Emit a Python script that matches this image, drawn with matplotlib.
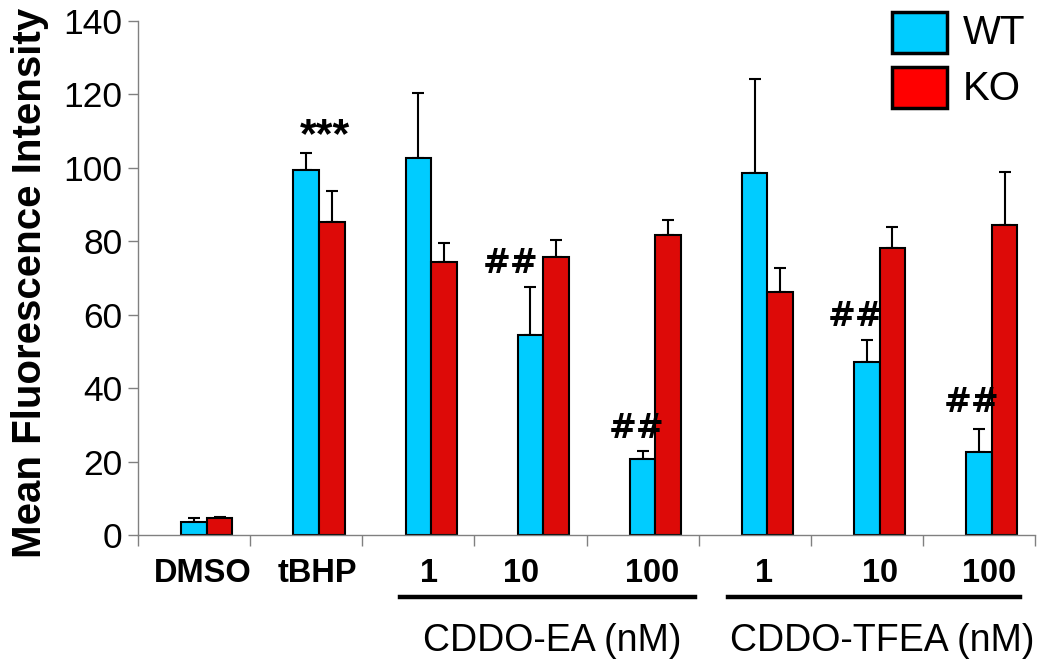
import matplotlib
matplotlib.use("Agg")
import matplotlib.pyplot as plt
import matplotlib.transforms as mtransforms
from matplotlib.patches import Rectangle
from matplotlib.lines import Line2D
import numpy as np

plt.rcParams['font.family'] = ['Liberation Sans', 'DejaVu Sans']

categories = ["DMSO", "tBHP", "1", "10", "100", "1", "10", "100"]
wt_values = [3.7, 99.4, 102.6, 54.5, 20.9, 98.5, 47.1, 22.6]
wt_err = [0.9, 4.8, 17.9, 13.2, 2.0, 25.6, 6.1, 6.3]
ko_values = [4.6, 85.4, 74.5, 75.7, 81.7, 66.3, 78.1, 84.4]
ko_err = [0.5, 8.4, 5.2, 4.7, 4.1, 6.4, 5.7, 14.4]
annotations = {1: "***", 3: "##", 4: "##", 6: "##", 7: "##"}
group_labels = ["CDDO-EA (nM)", "CDDO-TFEA (nM)"]
legend_labels = ["WT", "KO"]
y_label = "Mean Fluorescence Intensity"

WT_COLOR = "#00CCFF"
KO_COLOR = "#DD0A08"
KO_LEG = "#FF0000"

W, H = 1050, 672
fig = plt.figure(figsize=(W / 100, H / 100), dpi=100)
L, R, T, B = 138, 1035, 21, 535.3
ax = fig.add_axes([L / W, 1 - B / H, (R - L) / W, (B - T) / H])

n = len(categories)
bw = 0.228
x = np.arange(n) + 0.5
ax.bar(x, wt_values, width=bw, color=WT_COLOR, edgecolor="black", linewidth=1.5, zorder=2)
ax.bar(x + bw, ko_values, width=bw, color=KO_COLOR, edgecolor="black", linewidth=1.5, zorder=2)
ax.errorbar(x, wt_values, yerr=[np.zeros(n), wt_err], fmt="none", ecolor="black",
            elinewidth=1.5, capsize=4.5, capthick=1.5, zorder=1)
ax.errorbar(x + bw, ko_values, yerr=[np.zeros(n), ko_err], fmt="none", ecolor="black",
            elinewidth=1.5, capsize=4.5, capthick=1.5, zorder=1)

ax.set_xlim(0, n)
ax.set_ylim(0, 140)
ax.set_yticks(np.arange(0, 141, 20))
ax.set_xticks(np.arange(0, n + 1))
ax.set_xticklabels([])
ax.tick_params(axis="y", labelsize=25.5, length=7, width=1, color="#808080", pad=4)
ax.tick_params(axis="x", length=8, width=1, color="#808080")
for s in ["top", "right"]:
    ax.spines[s].set_visible(False)
for s in ["left", "bottom"]:
    ax.spines[s].set_color("#808080")
    ax.spines[s].set_linewidth(1)


def px2x(px):
    return (px - L) / ((R - L) / n)


def py2f(py):
    return 1 - py / H


# y-axis label
fig.text(30 / W, py2f(283), y_label, rotation=90, ha="center", va="center",
         fontsize=29, fontweight="bold")

blend = mtransforms.blended_transform_factory(ax.transData, fig.transFigure)
# x category labels (placed manually like the original)
label_px = [203, 317, 429, 521, 652, 764, 880, 989]
for lab, px in zip(categories, label_px):
    ax.text(px2x(px), py2f(573), lab, transform=blend,
            ha="center", va="center", fontsize=23.5, fontweight="bold")

# group underlines
for (x0, x1) in [(400, 695), (728, 1020)]:
    fig.add_artist(Line2D([x0 / W, x1 / W], [py2f(597)] * 2, color="black", linewidth=3.2))
# group labels
for lab, px in zip(group_labels, [552, 882]):
    fig.text(px / W, py2f(641), lab, ha="center", va="center", fontsize=27)

# significance annotations
ann_pos = {1: (325, 136), 3: (511, 263), 4: (637, 428), 6: (856, 317), 7: (972, 402)}
for i, txt in annotations.items():
    px, py = ann_pos[i]
    size = 31 if txt == "***" else 24
    fig.text(px / W, py2f(py), txt, ha="center", va="center", fontsize=size,
             fontweight="bold", family=["DejaVu Sans"] if txt.startswith("#") else None)

# legend
for (y0, y1), c, lab in zip([(12, 53), (67, 108)], [WT_COLOR, KO_LEG], legend_labels):
    fig.add_artist(Rectangle((892 / W, py2f(y1)), (947 - 892) / W, (y1 - y0) / H,
                             facecolor=c, edgecolor="black", linewidth=2.5,
                             transform=fig.transFigure))
    fig.text(963 / W, py2f((y0 + y1) / 2 + 1), lab, ha="left", va="center", fontsize=29)

fig.savefig("out.png", dpi=100)
